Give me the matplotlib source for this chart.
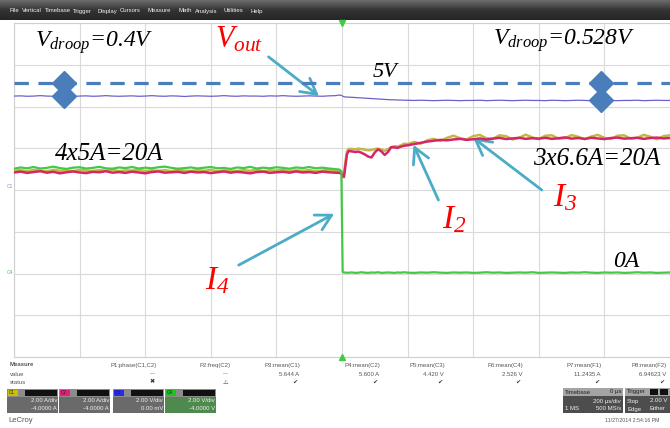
import numpy as np
import matplotlib.pyplot as plt
from matplotlib.patches import Rectangle
from matplotlib.colors import LinearSegmentedColormap

plt.rcParams['mathtext.fontset'] = 'custom'
plt.rcParams['mathtext.rm'] = 'Liberation Serif:italic'
plt.rcParams['mathtext.it'] = 'Liberation Serif:italic'
plt.rcParams['mathtext.default'] = 'it'

W, H = 670, 428

# ---- data ----
# time in us, 200 us/div, trigger (load step) at t = 0
t_pre = np.concatenate([np.arange(-1000, -19, 20), [-8, -2]])
t_post = np.concatenate([[2, 6, 10, 15], np.arange(20, 200, 10), np.arange(200, 1001, 20)])

# currents in A (C1, C2, C4 at 2 A/div, offset -4 A)
i4_pre = [5.02, 5.08, 5.04, 5.10, 5.03, 5.06, 5.12, 5.05, 5.01, 5.07, 5.09, 5.03, 5.06, 5.11, 5.04,
          5.02, 5.08, 5.05, 5.10, 5.03, 5.07, 5.04, 5.09, 5.12, 5.06, 5.02, 5.05, 5.08, 5.03, 5.07,
          5.10, 5.04, 5.06, 5.01, 5.08, 5.05, 5.11, 5.03, 5.07, 5.04, 5.09, 5.06, 5.02, 5.08, 5.05,
          5.10, 5.04, 5.07, 5.03, 5.00, 4.98, 4.90]
i4_post = [0.08, 0.04, 0.05, 0.03,
           0.04, 0.05, 0.03, 0.04, 0.06, 0.04, 0.03, 0.05, 0.04, 0.06, 0.03, 0.04, 0.05, 0.04, 0.03,
           0.05, 0.04, 0.06,
           0.04, 0.03, 0.05, 0.04, 0.06, 0.04, 0.03, 0.05, 0.04, 0.05, 0.03, 0.04, 0.06, 0.04, 0.05,
           0.03, 0.04, 0.05, 0.04, 0.06, 0.03, 0.04, 0.05, 0.04, 0.03, 0.05, 0.04, 0.06, 0.04, 0.03,
           0.05, 0.04, 0.05, 0.03, 0.04, 0.06, 0.04, 0.05, 0.03, 0.04, 0.05]
i2_pre = [4.84, 4.88, 4.82, 4.86, 4.90, 4.83, 4.87, 4.80, 4.85, 4.89, 4.84, 4.81, 4.87, 4.85, 4.90,
          4.83, 4.86, 4.82, 4.88, 4.84, 4.80, 4.86, 4.89, 4.83, 4.85, 4.87, 4.82, 4.88, 4.84, 4.86,
          4.81, 4.85, 4.89, 4.83, 4.87, 4.84, 4.80, 4.86, 4.88, 4.82, 4.85, 4.87, 4.83, 4.89, 4.84,
          4.86, 4.82, 4.88, 4.85, 4.83, 4.82, 4.78]
i2_post = [4.70, 4.62, 5.10, 5.70,
           5.87, 5.85, 5.82, 5.84, 5.78, 5.70, 5.60, 5.56, 5.80, 5.95, 5.85, 5.68, 5.82, 6.05, 6.04,
           6.02, 6.08, 6.12,
           6.14, 6.20, 6.26, 6.32, 6.36, 6.40, 6.38, 6.42, 6.45, 6.40, 6.43, 6.47, 6.42, 6.46, 6.50,
           6.44, 6.47, 6.50, 6.45, 6.48, 6.46, 6.50, 6.45, 6.48, 6.52, 6.46, 6.49, 6.45, 6.50, 6.47,
           6.44, 6.49, 6.51, 6.46, 6.48, 6.50, 6.45, 6.49, 6.51, 6.47, 6.49]
i3_pre = [4.92, 4.95, 4.90, 4.96, 4.93, 4.89, 4.97, 4.92, 4.94, 4.90, 4.96, 4.93, 4.91, 4.95, 4.92,
          4.97, 4.90, 4.94, 4.93, 4.96, 4.91, 4.94, 4.92, 4.95, 4.90, 4.97, 4.93, 4.91, 4.95, 4.92,
          4.96, 4.90, 4.94, 4.93, 4.91, 4.95, 4.92, 4.97, 4.90, 4.94, 4.93, 4.96, 4.91, 4.94, 4.92,
          4.95, 4.90, 4.93, 4.96, 4.92, 4.90, 4.85]
i3_post = [4.75, 4.80, 5.30, 5.85,
           5.96, 5.97, 5.95, 5.98, 5.96, 5.93, 5.90, 5.92, 5.96, 5.98, 5.94, 5.88, 5.95, 6.05, 6.10,
           6.08, 6.14, 6.22,
           6.20, 6.30, 6.22, 6.38, 6.45, 6.35, 6.50, 6.60, 6.48, 6.42, 6.58, 6.64, 6.48, 6.45, 6.62,
           6.58, 6.42, 6.50, 6.65, 6.52, 6.44, 6.60, 6.62, 6.46, 6.48, 6.63, 6.55, 6.43, 6.56, 6.64,
           6.50, 6.44, 6.60, 6.62, 6.46, 6.50, 6.64, 6.55, 6.43, 6.58, 6.62]

# output voltage in V (C3 at 2 V/div, offset 0)
vout_pre = [4.50, 4.51, 4.49, 4.50, 4.52, 4.50, 4.49, 4.51, 4.50, 4.48, 4.50, 4.51, 4.49, 4.50, 4.52,
            4.50, 4.49, 4.50, 4.51, 4.49, 4.50, 4.52, 4.50, 4.49, 4.51, 4.50, 4.48, 4.50, 4.51, 4.50,
            4.49, 4.50, 4.52, 4.50, 4.49, 4.51, 4.50, 4.50, 4.49, 4.51, 4.50, 4.52, 4.50, 4.49, 4.50,
            4.51, 4.50, 4.49, 4.51, 4.52, 4.55, 4.53]
vout_post = [4.50, 4.47, 4.46, 4.45,
             4.45, 4.44, 4.43, 4.42, 4.41, 4.40, 4.39, 4.38, 4.37, 4.36, 4.35, 4.34, 4.33, 4.32, 4.32,
             4.31, 4.31, 4.30,
             4.30, 4.29, 4.30, 4.29, 4.28, 4.29, 4.30, 4.29, 4.28, 4.29, 4.29, 4.30, 4.28, 4.29, 4.30,
             4.29, 4.28, 4.29, 4.30, 4.29, 4.29, 4.28, 4.30, 4.29, 4.28, 4.29, 4.30, 4.29, 4.28, 4.29,
             4.30, 4.29, 4.28, 4.29, 4.29, 4.30, 4.28, 4.29, 4.30, 4.29, 4.29]
v_ref = 5.12
t_marks = [-848, 791]
v_marks_low = [4.50, 4.29]

# menu bar / readout texts
menu_items = ['File', 'Vertical', 'Timebase', 'Trigger', 'Display', 'Cursors', 'Measure',
              'Math', 'Analysis', 'Utilities', 'Help']
menu_x = [10, 22, 45, 73, 97, 120, 148, 178, 195, 223, 250]
meas_names = ['P1:phase(C1,C2)', 'P2:freq(C2)', 'P3:mean(C1)', 'P4:mean(C2)', 'P5:mean(C3)',
              'P6:mean(C4)', 'P7:mean(F1)', 'P8:mean(F2)']
meas_values = ['---', '---', '5.644 A', '5.600 A', '4.420 V', '2.526 V', '11.2435 A', '6.94623 V']
meas_status = ['\u2716', '\u26a0', '\u2714', '\u2714', '\u2714', '\u2714', '\u2714', '\u2714']
meas_right = [157, 230, 300, 380, 445, 523, 602, 667]
ch_names = ['C1', 'C2', 'C3', 'C4']
ch_colors = ['#c8c000', '#e0207a', '#2a2ae0', '#22c022']
ch_scale = ['2.00 A/div', '2.00 A/div', '2.00 V/div', '2.00 V/div']
ch_offset = ['-4.0000 A', '-4.0000 A', '0.00 mV', '-4.0000 V']
ch_x0 = [7, 59, 113, 165]


def amp_div(i):
    return np.asarray(i) / 2.0 - 2.0


def volt_div(v):
    return np.asarray(v) / 2.0


def fx(x):
    return x / W


def fy(y):
    return 1 - y / H


def rect(x, y, w, h, color):
    fig.add_artist(Rectangle((fx(x), fy(y + h)), w / W, h / H, transform=fig.transFigure,
                             facecolor=color, edgecolor='none'))


fig = plt.figure(figsize=(6.7, 4.28), dpi=100)

# menu bar
bar = fig.add_axes([0, fy(20), 1, 20 / H])
grad = np.linspace(0, 1, 20).reshape(-1, 1)
bar.imshow(grad, aspect='auto', extent=[0, 1, 0, 1],
           cmap=LinearSegmentedColormap.from_list('m', ['#6a6a6a', '#343434', '#262626']))
bar.axis('off')
for name, x in zip(menu_items, menu_x):
    fig.text(fx(x), fy(11), name, fontsize=4.3, color='#f2f2f2', va='center', family='Liberation Sans')

# scope graticule
ax = fig.add_axes([fx(14), fy(357), (W - 14) / W, 334 / H])
ax.set_xlim(-1000, 988)
ax.set_ylim(-4, 4)
ax.set_xticks(np.arange(-1000, 1001, 200))
ax.set_yticks(np.arange(-4, 5, 1))
ax.grid(True, color='#dadada', lw=0.8)
ax.tick_params(length=0, labelbottom=False, labelleft=False)
for s in ax.spines.values():
    s.set_color('#cfcfcf')
ax.spines['right'].set_visible(False)

# traces
ax.plot(t_pre, volt_div(vout_pre), color='#6a62cc', lw=0.9, zorder=3)
ax.plot(t_post, volt_div(vout_post), color='#6a62cc', lw=0.9, zorder=3)
ax.plot(t_pre, amp_div(i3_pre), color='#c2b845', lw=1.8, zorder=3)
ax.plot(t_post, amp_div(i3_post), color='#c2b845', lw=1.8, zorder=3)
ax.plot(t_pre, amp_div(i2_pre), color='#d62669', lw=1.8, zorder=4)
ax.plot(t_post, amp_div(i2_post), color='#d62669', lw=1.8, zorder=4)
ax.plot(np.concatenate([t_pre, t_post]), amp_div(i4_pre + i4_post), color='#44c944', lw=1.6, zorder=5)

# 5 V reference and droop markers
ax.axhline(volt_div(v_ref), color='#4a7ebb', lw=2.3, dashes=(4.5, 3), zorder=6)
ax.plot(t_marks, volt_div([v_ref, v_ref]), 'D', color='#4a7ebb', ms=12, zorder=7)
ax.plot(t_marks, volt_div(v_marks_low), 'D', color='#4a7ebb', ms=12, zorder=7)

# trigger markers and channel tags
ax.plot([0], [4], marker='v', color='#44c944', ms=4, clip_on=False, zorder=8)
ax.plot([0], [-4], marker='^', color='#44c944', ms=4, clip_on=False, zorder=8)
fig.text(fx(7), fy(187), 'C1', fontsize=3.5, color='#8a8ad0', va='center')
fig.text(fx(7), fy(272), 'C4', fontsize=3.5, color='#44c944', va='center')

# annotations
serif = dict(family='Liberation Serif', style='italic', va='baseline')
fig.text(fx(35), fy(47), r'$V_{droop}$=0.4V', fontsize=17, **serif)
fig.text(fx(493), fy(45), r'$V_{droop}$=0.528V', fontsize=17, **serif)
fig.text(fx(215), fy(48), r'$V_{out}$', fontsize=22, color='red', **serif)
fig.text(fx(373), fy(77), '5V', fontsize=16, **serif)
fig.text(fx(55), fy(160), '4x5A=20A', fontsize=18, **serif)
fig.text(fx(533), fy(165), '3x6.6A=20A', fontsize=18, **serif)
fig.text(fx(613), fy(267), '0A', fontsize=17, **serif)
fig.text(fx(442), fy(228), r'$I_{2}$', fontsize=24, color='red', **serif)
fig.text(fx(553), fy(206), r'$I_{3}$', fontsize=24, color='red', **serif)
fig.text(fx(205), fy(289), r'$I_{4}$', fontsize=24, color='red', **serif)

arrow = dict(arrowstyle='->,head_length=0.55,head_width=0.3', color='#4bacc6', lw=2,
             mutation_scale=20, shrinkA=0, shrinkB=0)
ax.annotate('', xy=(-70, 2.25), xytext=(-224, 3.19), arrowprops=arrow, annotation_clip=False)
ax.annotate('', xy=(-24, -0.57), xytext=(-315, -1.80), arrowprops=arrow)
ax.annotate('', xy=(218, 1.08), xytext=(294, -0.24), arrowprops=arrow)
ax.annotate('', xy=(400, 1.25), xytext=(609, 0.0), arrowprops=arrow)

# measurement panel
small = dict(fontsize=4.3, color='#555555', va='center', family='Liberation Sans')
fig.text(fx(10), fy(365), 'Measure', fontweight='bold', **small)
fig.text(fx(10), fy(374), 'value', **small)
fig.text(fx(10), fy(382), 'status', **small)
for name, val, st, xr in zip(meas_names, meas_values, meas_status, meas_right):
    fig.text(fx(xr), fy(365), name, ha='right', **small)
    fig.text(fx(xr - 1), fy(374), val, ha='right', **small)
    fig.text(fx(xr - 5), fy(382), st, ha='center', fontsize=4.5, color='#333333', va='center',
             family='DejaVu Sans')

# channel boxes
for name, col, sc, off, x0 in zip(ch_names, ch_colors, ch_scale, ch_offset, ch_x0):
    body = '#4e8a4e' if name == 'C4' else '#6a6a6a'
    rect(x0, 389, 51, 24, body)
    rect(x0, 389, 51, 8, '#8c8c8c')
    rect(x0 + 1, 390, 10, 6, col)
    rect(x0 + 18, 390, 32, 6, '#111111')
    fig.text(fx(x0 + 2), fy(393), name, fontsize=3.3, color='#222222', va='center')
    fig.text(fx(x0 + 50), fy(401), sc, ha='right', fontsize=4.3, color='#f0f0f0', va='center',
             family='Liberation Sans')
    fig.text(fx(x0 + 50), fy(409), off, ha='right', fontsize=4.3, color='#f0f0f0', va='center',
             family='Liberation Sans')

# timebase / trigger boxes
rect(563, 388, 60, 25, '#4d4d4d')
rect(563, 388, 60, 8, '#a4a4a4')
rect(625, 388, 50, 25, '#4d4d4d')
rect(625, 388, 50, 8, '#a4a4a4')
rect(650, 389, 8, 6, '#111111')
rect(660, 389, 8, 6, '#111111')
box_txt = dict(fontsize=4.3, va='center', family='Liberation Sans')
fig.text(fx(565), fy(392), 'Timebase', color='#222222', **box_txt)
fig.text(fx(621), fy(392), '0 \u00b5s', color='#222222', ha='right', **box_txt)
fig.text(fx(621), fy(401), '200 \u00b5s/div', color='#f0f0f0', ha='right', **box_txt)
fig.text(fx(565), fy(409), '1 MS', color='#f0f0f0', **box_txt)
fig.text(fx(621), fy(409), '500 MS/s', color='#f0f0f0', ha='right', **box_txt)
fig.text(fx(627), fy(392), 'Trigger', color='#222222', **box_txt)
fig.text(fx(627), fy(401), 'Stop', color='#f0f0f0', **box_txt)
fig.text(fx(650), fy(401), '2.00 V', color='#f0f0f0', **box_txt)
fig.text(fx(627), fy(409), 'Edge', color='#f0f0f0', **box_txt)
fig.text(fx(650), fy(409), 'Either', color='#f0f0f0', **box_txt)
fig.text(fx(605), fy(420), '11/27/2014 2:54:16 PM', fontsize=3.8, color='#555555', va='center',
         family='Liberation Sans')
fig.text(fx(8), fy(421), 'LeCroy', fontsize=5.5, color='#555555', va='center', family='Liberation Sans')

fig.savefig('out.png', dpi=100)
